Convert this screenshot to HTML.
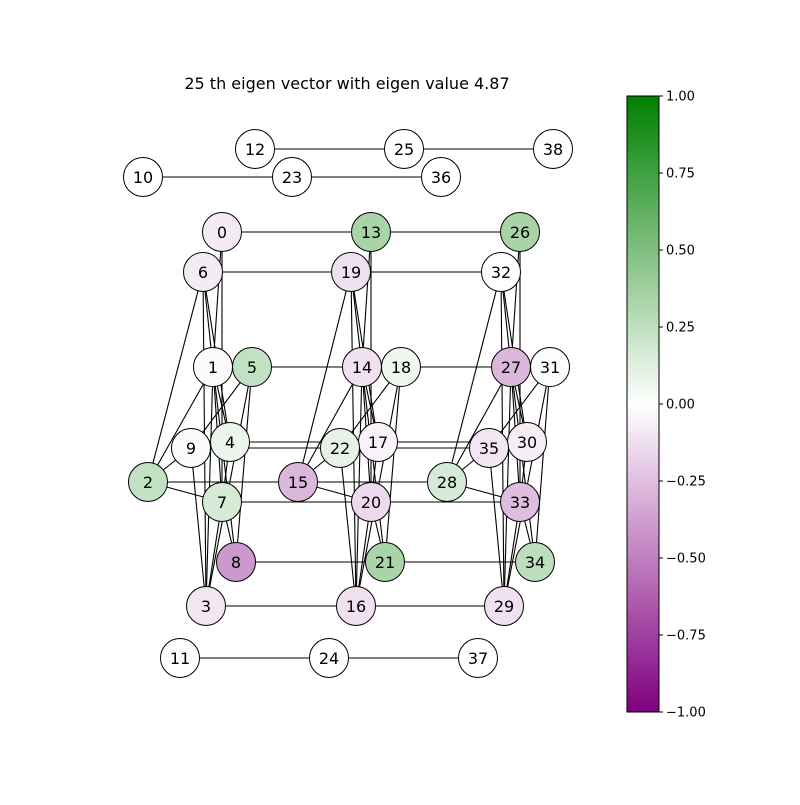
<!DOCTYPE html>
<html><head><meta charset="utf-8"><style>
body{margin:0;background:#fff;}
svg text{font-family:"DejaVu Sans","Liberation Sans",sans-serif;}
</style></head><body>
<svg id="chart" width="800" height="800" xmlns="http://www.w3.org/2000/svg">
<defs><linearGradient id="cg" x1="0" y1="0" x2="0" y2="1">
<stop offset="0" stop-color="rgb(0,128,0)"/><stop offset="0.5" stop-color="#fff"/><stop offset="1" stop-color="rgb(128,0,128)"/></linearGradient></defs>
<text x="347" y="89" font-size="16" text-anchor="middle">25 th eigen vector with eigen value 4.87</text>
<g id="edges"></g>
<g id="nodes"></g>
<g id="cbar"></g>
</svg>
<script>
const nodeX=[222,213,148,206,230,252,203,222,236,191,143,180,255,371,362,298,356,378,401,351,371,385,340,292,329,404,520,511,447,504,527,550,501,520,535,489,441,478,553];
const nodeY=[232,367,482,606,442,367,272,502,562,448,177,658,149,232,367,482,606,442,367,272,502,562,448,177,658,149,232,367,482,606,442,367,272,502,562,448,177,658,149];
const nodeValues=[-0.08,-0.02,0.24,-0.1,0.08,0.24,-0.08,0.16,-0.4,0.02,0,0,0,0.34,-0.12,-0.28,-0.12,-0.05,0.06,-0.12,-0.15,0.34,0.1,0,0,0,0.34,-0.28,0.16,-0.12,-0.07,0.01,0,-0.26,0.26,-0.1,0,0,0];
const innerEdges=[[6,2],[6,1],[6,4],[6,3],[0,1],[0,7],[1,2],[1,4],[1,3],[1,7],[1,8],[5,9],[5,8],[5,3],[4,7],[9,3],[2,7],[7,8],[7,3],[2,9]];
const crossEdges=[[0,13],[13,26],[6,19],[19,32],[1,14],[14,27],[5,18],[18,31],[9,22],[22,35],[4,17],[17,30],[2,15],[15,28],[7,20],[20,33],[8,21],[21,34],[3,16],[16,29],[10,23],[23,36],[12,25],[25,38],[11,24],[24,37]];
const cbTicks=[1,0.75,0.5,0.25,0,-0.25,-0.5,-0.75,-1];
const NS='http://www.w3.org/2000/svg';
function el(t,a,p){const e=document.createElementNS(NS,t);for(const k in a)e.setAttribute(k,a[k]);p.appendChild(e);return e;}
function color(v){v=Math.max(-1,Math.min(1,v));let r,g,b;
 if(v>=0){r=255*(1-v);g=255-127*v;b=255*(1-v);}else{const a=-v;r=255-127*a;g=255*(1-a);b=255-127*a;}
 return `rgb(${Math.round(r)},${Math.round(g)},${Math.round(b)})`;}
const E=document.getElementById('edges');
const allEdges=[];
for(const off of [0,13,26])for(const [a,b] of innerEdges)allEdges.push([a+off,b+off]);
for(const e of crossEdges)allEdges.push(e);
for(const [a,b] of allEdges){
 const l=el('line',{x1:nodeX[a],y1:nodeY[a],x2:nodeX[b],y2:nodeY[b],stroke:'#000','stroke-width':1.1},E);
 
 
}
const N=document.getElementById('nodes');
for(let i=0;i<nodeX.length;i++){
 const g=el('g',{},N);
 
 
 el('circle',{cx:nodeX[i],cy:nodeY[i],r:19.5,fill:color(nodeValues[i]),stroke:'#000','stroke-width':1},g);
 const t=el('text',{x:nodeX[i],y:nodeY[i]+6,'font-size':16,'text-anchor':'middle'},g);t.textContent=i;
}
const C=document.getElementById('cbar');
const cx=627,cw=32,cy0=96,cy1=712;
function ys(v){return cy0+(1-v)/2*(cy1-cy0);}
const rect=el('rect',{x:cx,y:cy0,width:cw,height:cy1-cy0,fill:'url(#cg)',stroke:'#000','stroke-width':1},C);


for(const v of cbTicks){
 const y=ys(v);
 el('line',{x1:cx+cw,y1:y,x2:cx+cw+4,y2:y,stroke:'#000'},C);
 const t=el('text',{x:cx+cw+7,y:y+4.5,'font-size':13},C);
 
 
 t.textContent=(v<0?'\u2212':'')+Math.abs(v).toFixed(2);
}
</script>
</body></html>
